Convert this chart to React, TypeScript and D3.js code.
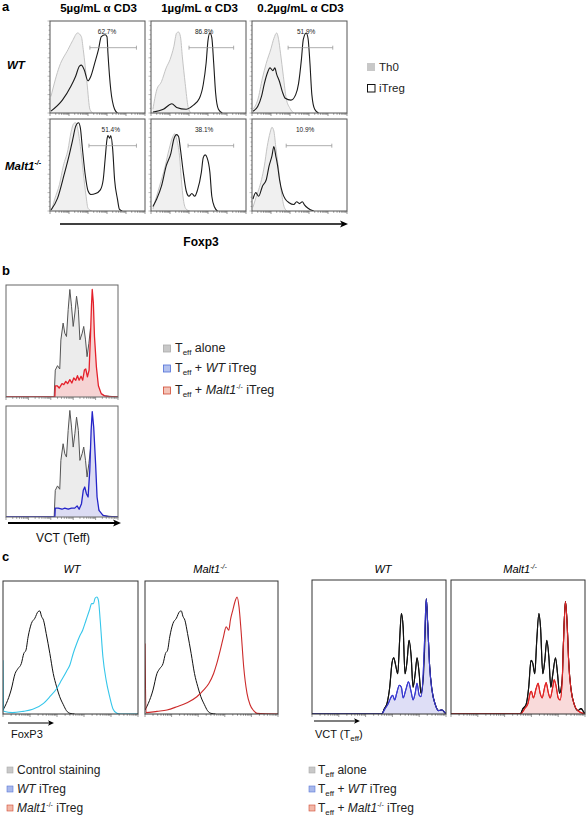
import React from "react";
import * as d3 from "d3";

type Pt = [number, number];

const FONT = "'Liberation Sans', Arial, Helvetica, sans-serif";

// ---------------- Panel a data ----------------
const aColumns = ["5µg/mL α CD3", "1µg/mL α CD3", "0.2µg/mL α CD3"];
const aRows = ["WT", "Malt1"];
const aPercents = [
  ["62.7%", "86.8%", "51.9%"],
  ["51.4%", "38.1%", "10.9%"],
];
const aPctX = [
  [0.6, 0.56, 0.57],
  [0.64, 0.56, 0.56],
];
const aGates: [number, number][][] = [
  [[0.42, 0.91], [0.4, 0.87], [0.38, 0.85]],
  [[0.41, 0.91], [0.39, 0.87], [0.36, 0.84]],
];

const aTh0_11: Pt[] = [[0.01,0.18],[0.1,0.51],[0.19,0.69],[0.24,0.79],[0.29,0.87],[0.33,0.83],[0.35,0.69],[0.39,0.32],[0.42,0.04],[0.45,0]];
const aTreg_11: Pt[] = [[0.01,0.02],[0.13,0.14],[0.22,0.29],[0.27,0.4],[0.31,0.51],[0.33,0.52],[0.36,0.47],[0.4,0.35],[0.43,0.4],[0.47,0.54],[0.51,0.69],[0.54,0.83],[0.58,0.85],[0.6,0.83],[0.61,0.65],[0.64,0.25],[0.68,0.04],[0.71,0]];
const aTh0_12: Pt[] = [[0.02,0.04],[0.06,0.25],[0.11,0.34],[0.16,0.49],[0.2,0.58],[0.24,0.72],[0.27,0.87],[0.29,0.88],[0.31,0.83],[0.33,0.61],[0.36,0.32],[0.39,0.07],[0.42,0]];
const aTreg_12: Pt[] = [[0.02,0.01],[0.13,0.04],[0.22,0.1],[0.27,0.06],[0.37,0.04],[0.44,0.08],[0.51,0.16],[0.55,0.31],[0.58,0.54],[0.6,0.79],[0.62,0.87],[0.64,0.82],[0.66,0.54],[0.68,0.22],[0.71,0.04],[0.75,0]];
const aTh0_13: Pt[] = [[0.01,0.04],[0.06,0.14],[0.11,0.38],[0.15,0.54],[0.2,0.7],[0.23,0.81],[0.26,0.87],[0.28,0.8],[0.3,0.65],[0.33,0.4],[0.36,0.16],[0.4,0.05],[0.44,0]];
const aTreg_13: Pt[] = [[0.01,0.02],[0.06,0.07],[0.1,0.18],[0.13,0.32],[0.16,0.43],[0.19,0.49],[0.22,0.46],[0.24,0.49],[0.26,0.42],[0.29,0.34],[0.32,0.23],[0.35,0.16],[0.41,0.14],[0.46,0.2],[0.49,0.32],[0.52,0.58],[0.54,0.8],[0.57,0.87],[0.59,0.81],[0.61,0.54],[0.63,0.2],[0.66,0.04],[0.7,0]];
const aTh0_21: Pt[] = [[0.02,0.02],[0.05,0.13],[0.1,0.29],[0.14,0.49],[0.19,0.67],[0.22,0.85],[0.25,0.95],[0.27,0.96],[0.29,0.9],[0.32,0.7],[0.35,0.42],[0.38,0.16],[0.4,0.03],[0.44,0]];
const aTreg_21: Pt[] = [[0.01,0.01],[0.08,0.14],[0.15,0.4],[0.2,0.6],[0.24,0.78],[0.27,0.92],[0.3,0.96],[0.32,0.9],[0.34,0.69],[0.37,0.4],[0.4,0.22],[0.43,0.18],[0.48,0.19],[0.53,0.23],[0.56,0.34],[0.58,0.56],[0.6,0.78],[0.61,0.82],[0.63,0.79],[0.64,0.82],[0.66,0.67],[0.68,0.34],[0.71,0.13],[0.73,0.02],[0.76,0]];
const aTh0_22: Pt[] = [[0.02,0.02],[0.05,0.13],[0.09,0.27],[0.15,0.49],[0.19,0.67],[0.23,0.81],[0.25,0.84],[0.27,0.78],[0.3,0.6],[0.32,0.34],[0.34,0.13],[0.37,0.02],[0.41,0]];
const aTreg_22: Pt[] = [[0.02,0.05],[0.06,0.13],[0.11,0.27],[0.16,0.49],[0.21,0.63],[0.24,0.78],[0.27,0.83],[0.29,0.81],[0.31,0.67],[0.34,0.42],[0.37,0.22],[0.4,0.16],[0.43,0.19],[0.46,0.16],[0.49,0.23],[0.53,0.42],[0.55,0.58],[0.57,0.61],[0.59,0.58],[0.62,0.42],[0.64,0.16],[0.67,0.04],[0.7,0]];
const aTh0_23: Pt[] = [[0.01,0.04],[0.04,0.14],[0.1,0.34],[0.13,0.49],[0.16,0.7],[0.19,0.85],[0.21,0.91],[0.23,0.87],[0.25,0.7],[0.28,0.45],[0.31,0.2],[0.34,0.04],[0.37,0]];
const aTreg_23: Pt[] = [[0.01,0.13],[0.04,0.2],[0.07,0.16],[0.11,0.27],[0.15,0.34],[0.18,0.49],[0.21,0.6],[0.23,0.7],[0.25,0.6],[0.27,0.49],[0.29,0.34],[0.32,0.2],[0.35,0.13],[0.39,0.09],[0.44,0.07],[0.47,0.1],[0.5,0.08],[0.53,0.1],[0.55,0.07],[0.59,0.03],[0.65,0]];

const aTh0 = [[aTh0_11, aTh0_12, aTh0_13], [aTh0_21, aTh0_22, aTh0_23]];
const aTreg = [[aTreg_11, aTreg_12, aTreg_13], [aTreg_21, aTreg_22, aTreg_23]];

// ---------------- Panel b data ----------------
const bTeffAlone: Pt[] = [[0,0],[0.43,0],[0.44,0.24],[0.46,0.28],[0.48,0.25],[0.49,0.51],[0.51,0.66],[0.525,0.57],[0.54,0.54],[0.555,0.78],[0.57,0.96],[0.585,0.81],[0.6,0.63],[0.615,0.75],[0.63,0.9],[0.646,0.78],[0.66,0.51],[0.68,0.57],[0.694,0.63],[0.71,0.51],[0.724,0.36],[0.74,0.48],[0.754,0.61],[0.77,0.45],[0.78,0.27],[0.81,0.12],[0.84,0.03],[0.88,0.01],[1,0]];
const bMaltTreg: Pt[] = [[0,0],[0.436,0],[0.44,0.1],[0.457,0.1],[0.475,0.08],[0.5,0.12],[0.516,0.11],[0.534,0.14],[0.55,0.12],[0.57,0.155],[0.588,0.125],[0.605,0.17],[0.623,0.15],[0.638,0.19],[0.653,0.15],[0.67,0.185],[0.685,0.15],[0.7,0.24],[0.712,0.25],[0.727,0.18],[0.742,0.24],[0.754,0.54],[0.763,0.81],[0.77,0.96],[0.78,0.84],[0.79,0.54],[0.807,0.27],[0.825,0.1],[0.85,0.03],[0.88,0.01],[0.94,0],[1,0]];
const bWtTreg: Pt[] = [[0,0],[0.436,0],[0.44,0.08],[0.466,0.08],[0.5,0.07],[0.525,0.08],[0.555,0.07],[0.585,0.08],[0.614,0.08],[0.635,0.1],[0.653,0.07],[0.674,0.12],[0.69,0.24],[0.703,0.27],[0.718,0.21],[0.733,0.18],[0.748,0.42],[0.76,0.78],[0.77,0.95],[0.783,0.81],[0.8,0.48],[0.813,0.18],[0.83,0.06],[0.866,0.015],[0.926,0],[1,0]];

// ---------------- Panel c data ----------------
const cControl: Pt[] = [[0,0.03],[0.025,0.08],[0.06,0.18],[0.09,0.305],[0.11,0.34],[0.136,0.38],[0.154,0.455],[0.17,0.48],[0.186,0.58],[0.21,0.68],[0.236,0.72],[0.26,0.77],[0.273,0.775],[0.285,0.735],[0.3,0.705],[0.32,0.605],[0.347,0.455],[0.372,0.305],[0.397,0.205],[0.42,0.13],[0.447,0.07],[0.47,0.025],[0.496,0.005],[0.53,0]];
const cWtFoxp3: Pt[] = [[0,0.405],[0.005,0.02],[0.07,0.01],[0.15,0.02],[0.22,0.035],[0.3,0.08],[0.347,0.13],[0.397,0.19],[0.434,0.255],[0.47,0.32],[0.496,0.37],[0.52,0.455],[0.546,0.53],[0.57,0.59],[0.59,0.63],[0.615,0.705],[0.64,0.78],[0.657,0.83],[0.67,0.83],[0.682,0.87],[0.695,0.88],[0.707,0.855],[0.72,0.705],[0.74,0.43],[0.764,0.255],[0.79,0.13],[0.814,0.04],[0.844,0.005],[0.87,0],[1,0]];
const cMaltFoxp3: Pt[] = [[0,0.53],[0.008,0.01],[0.09,0.02],[0.165,0.03],[0.24,0.055],[0.316,0.085],[0.39,0.13],[0.44,0.18],[0.48,0.23],[0.516,0.305],[0.54,0.38],[0.566,0.48],[0.59,0.58],[0.61,0.655],[0.63,0.63],[0.642,0.705],[0.66,0.78],[0.68,0.855],[0.692,0.88],[0.707,0.805],[0.722,0.63],[0.742,0.355],[0.767,0.155],[0.79,0.07],[0.817,0.025],[0.842,0.005],[1,0]];

const cTeffAlone: Pt[] = [[0,0],[0.52,0],[0.54,0.04],[0.56,0.08],[0.58,0.2],[0.597,0.38],[0.61,0.42],[0.624,0.365],[0.64,0.3],[0.654,0.55],[0.667,0.75],[0.68,0.65],[0.694,0.3],[0.71,0.4],[0.724,0.55],[0.74,0.43],[0.754,0.2],[0.77,0.3],[0.784,0.42],[0.8,0.3],[0.813,0.155],[0.83,0.255],[0.843,0.55],[0.853,0.86],[0.863,0.68],[0.878,0.355],[0.895,0.18],[0.92,0.07],[0.945,0.025],[0.97,0.03],[0.99,0.01],[1,0]];
const cWtVct: Pt[] = [[0,0],[0.52,0],[0.545,0.04],[0.57,0.08],[0.587,0.12],[0.602,0.14],[0.617,0.105],[0.632,0.155],[0.652,0.215],[0.667,0.2],[0.68,0.12],[0.7,0.18],[0.72,0.24],[0.74,0.165],[0.754,0.105],[0.77,0.155],[0.784,0.23],[0.8,0.14],[0.813,0.13],[0.83,0.3],[0.84,0.55],[0.853,0.86],[0.863,0.68],[0.878,0.355],[0.895,0.18],[0.92,0.07],[0.945,0.025],[0.97,0.03],[1,0]];
const cTeffAlone2: Pt[] = [[0,0],[0.517,0],[0.537,0.04],[0.56,0.07],[0.58,0.2],[0.597,0.4],[0.61,0.38],[0.625,0.3],[0.64,0.55],[0.656,0.75],[0.668,0.65],[0.685,0.3],[0.7,0.4],[0.715,0.55],[0.73,0.43],[0.745,0.2],[0.76,0.3],[0.78,0.42],[0.795,0.3],[0.81,0.155],[0.83,0.255],[0.84,0.55],[0.854,0.84],[0.866,0.68],[0.88,0.355],[0.896,0.18],[0.92,0.07],[0.946,0.025],[0.97,0.04],[0.99,0.015],[1,0]];
const cMaltVct: Pt[] = [[0,0],[0.517,0],[0.55,0.04],[0.575,0.08],[0.59,0.155],[0.6,0.17],[0.615,0.12],[0.635,0.19],[0.65,0.23],[0.665,0.155],[0.68,0.12],[0.7,0.205],[0.71,0.235],[0.725,0.165],[0.74,0.12],[0.76,0.205],[0.77,0.255],[0.785,0.205],[0.8,0.12],[0.815,0.105],[0.83,0.255],[0.84,0.55],[0.854,0.84],[0.866,0.68],[0.88,0.355],[0.896,0.18],[0.92,0.07],[0.946,0.025],[1,0]];

// ---------------- Components ----------------
type Layer = { data: Pt[]; stroke: string; fill?: string; sw?: number; curve?: any };

function Hist(props: {
  x: number; y: number; w: number; h: number; layers: Layer[];
  border?: string; leftTicks?: boolean; bottomTicks?: boolean;
  gate?: [number, number]; pct?: string; pctX?: number;
}) {
  const { x, y, w, h, layers } = props;
  const xs = d3.scaleLinear().domain([0, 1]).range([0, w]);
  const ys = d3.scaleLinear().domain([0, 1]).range([h, 0]);
  const logS = d3.scaleLog().domain([1, 100000]).range([0, w]);
  const linS = d3.scaleLinear().domain([0, 100]).range([h, 0]);
  const clipId = `clip-${Math.round(x)}-${Math.round(y)}`;
  return (
    <g transform={`translate(${x},${y})`}>
      <defs>
        <clipPath id={clipId}>
          <rect x={0} y={0} width={w} height={h} />
        </clipPath>
      </defs>
      <rect x={0} y={0} width={w} height={h} fill="#fff" />
      <g clipPath={`url(#${clipId})`}>
        {layers.map((L, i) => {
          const curve = L.curve || d3.curveMonotoneX;
          const area = d3.area<Pt>().x((d) => xs(d[0])).y0(h).y1((d) => ys(d[1])).curve(curve);
          const line = d3.line<Pt>().x((d) => xs(d[0])).y((d) => ys(d[1])).curve(curve);
          return (
            <g key={i}>
              {L.fill && <path d={area(L.data) || ""} fill={L.fill} stroke="none" />}
              <path d={line(L.data) || ""} fill="none" stroke={L.stroke} strokeWidth={L.sw || 1} strokeLinejoin="round" />
            </g>
          );
        })}
      </g>
      {props.gate && (
        <g stroke="#999" strokeWidth={0.8}>
          <line x1={xs(props.gate[0])} x2={xs(props.gate[1])} y1={ys(0.71)} y2={ys(0.71)} />
          <line x1={xs(props.gate[0])} x2={xs(props.gate[0])} y1={ys(0.71) - 2} y2={ys(0.71) + 2} />
          <line x1={xs(props.gate[1])} x2={xs(props.gate[1])} y1={ys(0.71) - 2} y2={ys(0.71) + 2} />
        </g>
      )}
      {props.pct && (
        <text x={xs(props.pctX || 0.6)} y={ys(0.86)} fontSize={6.5} fontFamily={FONT} textAnchor="middle" fill="#222">
          {props.pct}
        </text>
      )}
      {props.bottomTicks !== false && (
        <g stroke="#555" strokeWidth={0.6}>
          {logS.ticks().map((t, i) => {
            const major = Math.abs(Math.log10(t) - Math.round(Math.log10(t))) < 1e-9;
            return <line key={i} x1={logS(t)} x2={logS(t)} y1={h} y2={h + (major ? 3 : 1.8)} />;
          })}
        </g>
      )}
      {props.leftTicks && (
        <g stroke="#777" strokeWidth={0.5}>
          {linS.ticks(20).map((t, i) => (
            <line key={i} x1={0} x2={t % 20 === 0 ? -2.5 : -1.5} y1={linS(t)} y2={linS(t)} />
          ))}
        </g>
      )}
      <rect x={0} y={0} width={w} height={h} fill="none" stroke={props.border || "#444"} strokeWidth={1} />
    </g>
  );
}

function Arrow({ x1, x2, y, head = 7, sw = 1.4 }: { x1: number; x2: number; y: number; head?: number; sw?: number }) {
  return (
    <g>
      <line x1={x1} x2={x2 - head * 0.6} y1={y} y2={y} stroke="#000" strokeWidth={sw} />
      <path d={`M${x2},${y} L${x2 - head},${y - head * 0.45} L${x2 - head * 0.75},${y} L${x2 - head},${y + head * 0.45} Z`} fill="#000" />
    </g>
  );
}

export default function App() {
  // panel a geometry
  const aX = [50, 151, 252];
  const aW = 95;
  const aY = [21, 119];
  const aH = 92;

  const subFs = 8;

  return (
    <svg width={586} height={818} style={{ position: "absolute", left: 0, top: 0, background: "#fff" }} fontFamily={FONT}>
      <rect x={0} y={0} width={586} height={818} fill="#fff" />
      {/* ---------- Panel a ---------- */}
      <text x={2} y={11} fontSize={13} fontWeight="bold">a</text>
      {aColumns.map((c, i) => (
        <text key={c} x={aX[i] + aW / 2 + 1} y={12} fontSize={11.5} fontWeight="bold" textAnchor="middle">{c}</text>
      ))}
      <text x={7} y={69} fontSize={11.5} fontWeight="bold" fontStyle="italic">WT</text>
      <text x={5} y={170} fontSize={11.5} fontWeight="bold" fontStyle="italic">
        Malt1<tspan fontSize={7} dy={-5}>-/-</tspan>
      </text>
      {aRows.map((r, ri) =>
        aColumns.map((c, ci) => (
          <Hist
            key={`${ri}-${ci}`}
            x={aX[ci]} y={aY[ri]} w={aW} h={aH}
            border="#555"
            leftTicks
            layers={[
              { data: aTh0[ri][ci], stroke: "#c4c4c4", fill: "#f0f0f0", sw: 1 },
              { data: aTreg[ri][ci], stroke: "#1a1a1a", sw: 1.1 },
            ]}
            gate={aGates[ri][ci]}
            pct={aPercents[ri][ci]}
            pctX={aPctX[ri][ci]}
          />
        ))
      )}
      <Arrow x1={60} x2={348} y={224} head={8} sw={1.5} />
      <text x={201} y={246} fontSize={12} fontWeight="bold" textAnchor="middle">Foxp3</text>
      {/* legend a */}
      <rect x={367} y={63} width={8} height={8} fill="#c8c8c8" />
      <text x={379} y={71} fontSize={11.5} fill="#222">Th0</text>
      <rect x={367.5} y={84.5} width={7.5} height={7.5} fill="#fff" stroke="#111" strokeWidth={1} />
      <text x={379} y={92} fontSize={11.5} fill="#222">iTreg</text>

      {/* ---------- Panel b ---------- */}
      <text x={2} y={275} fontSize={13} fontWeight="bold">b</text>
      <Hist x={6} y={285} w={112} h={112} border="#666"
        layers={[
          { data: bTeffAlone, stroke: "#555", fill: "#ececec", sw: 1, curve: d3.curveLinear },
          { data: bMaltTreg, stroke: "#e4202a", fill: "#f6d3d3", sw: 1.3, curve: d3.curveLinear },
        ]} />
      <Hist x={6} y={406} w={112} h={111} border="#666"
        layers={[
          { data: bTeffAlone, stroke: "#555", fill: "#ececec", sw: 1, curve: d3.curveLinear },
          { data: bWtTreg, stroke: "#2424c8", fill: "#dcdcf3", sw: 1.3, curve: d3.curveLinear },
        ]} />
      <Arrow x1={8} x2={121} y={523} head={8} sw={1.8} />
      <text x={63} y={542} fontSize={12} textAnchor="middle" fill="#111">VCT (Teff)</text>
      {/* legend b */}
      <rect x={163.5} y={345} width={7} height={7} fill="#c8c8c8" stroke="#aaa" strokeWidth={0.8} />
      <text x={175} y={352} fontSize={12.5} fill="#222">T<tspan fontSize={subFs} dy={3}>eff</tspan><tspan dy={-3}> alone</tspan></text>
      <rect x={163.5} y={365} width={7} height={7} fill="#b4c2ee" stroke="#4f6fd8" strokeWidth={0.8} />
      <text x={175} y={372} fontSize={12.5} fill="#222">T<tspan fontSize={subFs} dy={3}>eff</tspan><tspan dy={-3}> + </tspan><tspan fontStyle="italic">WT</tspan> iTreg</text>
      <rect x={163.5} y={387} width={7} height={7} fill="#f4c4b8" stroke="#d04a32" strokeWidth={0.8} />
      <text x={175} y={394} fontSize={12.5} fill="#222">T<tspan fontSize={subFs} dy={3}>eff</tspan><tspan dy={-3}> + </tspan><tspan fontStyle="italic">Malt1</tspan><tspan fontSize={7} dy={-5}>-/-</tspan><tspan dy={5}> iTreg</tspan></text>

      {/* ---------- Panel c ---------- */}
      <text x={2} y={561} fontSize={13} fontWeight="bold">c</text>
      <text x={72} y={573} fontSize={11} fontStyle="italic" textAnchor="middle">WT</text>
      <text x={210} y={573} fontSize={11} fontStyle="italic" textAnchor="middle">Malt1<tspan fontSize={7} dy={-4}>-/-</tspan></text>
      <text x={383} y={573} fontSize={11} fontStyle="italic" textAnchor="middle">WT</text>
      <text x={520} y={573} fontSize={11} fontStyle="italic" textAnchor="middle">Malt1<tspan fontSize={7} dy={-4}>-/-</tspan></text>

      <Hist x={3} y={581} w={135} h={133} border="#333"
        layers={[
          { data: cControl, stroke: "#111", sw: 1 },
          { data: cWtFoxp3, stroke: "#35c6ea", sw: 1.1 },
        ]} />
      <Hist x={145} y={581} w={133} h={133} border="#333"
        layers={[
          { data: cControl, stroke: "#111", sw: 1 },
          { data: cMaltFoxp3, stroke: "#cc2a2a", sw: 1.1 },
        ]} />
      <Hist x={312} y={580} w={134} h={134} border="#333"
        layers={[
          { data: cTeffAlone, stroke: "#111", sw: 1.1 },
          { data: cWtVct, stroke: "#3a3ad0", fill: "#dedef6", sw: 1.1 },
          { data: cTeffAlone, stroke: "#111", sw: 1.1 },
          { data: cWtVct, stroke: "#3a3ad0", sw: 1.1 },
        ]} />
      <Hist x={451} y={580} w={134} h={134} border="#333"
        layers={[
          { data: cTeffAlone2, stroke: "#111", sw: 1.1 },
          { data: cMaltVct, stroke: "#e02424", fill: "#f9dada", sw: 1.1 },
          { data: cTeffAlone2, stroke: "#111", sw: 1.1 },
          { data: cMaltVct, stroke: "#e02424", sw: 1.1 },
        ]} />

      <Arrow x1={8} x2={54} y={723} head={6} sw={1.1} />
      <text x={11} y={738} fontSize={11} fill="#111">FoxP3</text>
      <Arrow x1={314} x2={360} y={721} head={6} sw={1.1} />
      <text x={315} y={738} fontSize={11} fill="#111">VCT (T<tspan fontSize={subFs} dy={3}>eff</tspan><tspan dy={-3}>)</tspan></text>

      {/* legend c left */}
      <rect x={7} y={767} width={6} height={6} fill="#c8c8c8" stroke="#aaa" strokeWidth={0.6} />
      <text x={17} y={774} fontSize={12} fill="#222">Control staining</text>
      <rect x={7} y={786} width={6} height={6} fill="#a8b8ec" stroke="#5a78d8" strokeWidth={0.6} />
      <text x={17} y={793} fontSize={12} fill="#222"><tspan fontStyle="italic">WT</tspan> iTreg</text>
      <rect x={7} y={805} width={6} height={6} fill="#f2b8a8" stroke="#d04a32" strokeWidth={0.6} />
      <text x={17} y={812} fontSize={12} fill="#222"><tspan fontStyle="italic">Malt1</tspan><tspan fontSize={7} dy={-5}>-/-</tspan><tspan dy={5}> iTreg</tspan></text>

      {/* legend c right */}
      <rect x={309} y={767} width={6} height={6} fill="#c8c8c8" stroke="#aaa" strokeWidth={0.6} />
      <text x={318} y={774} fontSize={12} fill="#222">T<tspan fontSize={subFs} dy={3}>eff</tspan><tspan dy={-3}> alone</tspan></text>
      <rect x={309} y={786} width={6} height={6} fill="#a8b8ec" stroke="#5a78d8" strokeWidth={0.6} />
      <text x={318} y={793} fontSize={12} fill="#222">T<tspan fontSize={subFs} dy={3}>eff</tspan><tspan dy={-3}> + </tspan><tspan fontStyle="italic">WT</tspan> iTreg</text>
      <rect x={309} y={805} width={6} height={6} fill="#f2b8a8" stroke="#d04a32" strokeWidth={0.6} />
      <text x={318} y={812} fontSize={12} fill="#222">T<tspan fontSize={subFs} dy={3}>eff</tspan><tspan dy={-3}> + </tspan><tspan fontStyle="italic">Malt1</tspan><tspan fontSize={7} dy={-5}>-/-</tspan><tspan dy={5}> iTreg</tspan></text>
    </svg>
  );
}
